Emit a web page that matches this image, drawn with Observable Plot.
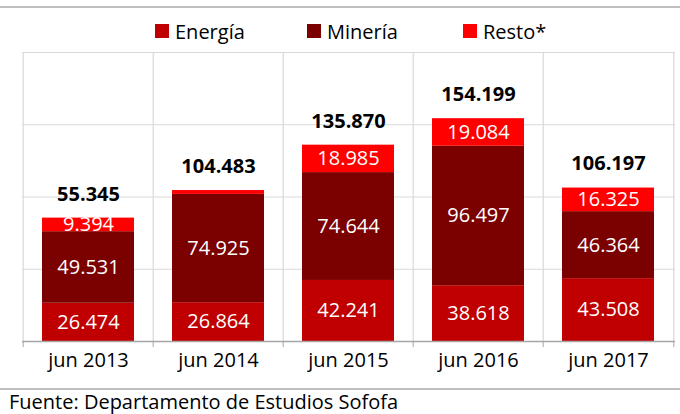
<!DOCTYPE html>
<html>
<head>
<meta charset="utf-8">
<script src="https://cdn.jsdelivr.net/npm/d3@7"></script>
<script src="https://cdn.jsdelivr.net/npm/@observablehq/plot@0.6"></script>
<style>
  body { margin: 0; background: #fff; font-family: "Open Sans", sans-serif; }
  #wrap { position: relative; width: 680px; height: 414px; overflow: hidden; }
  #topline { position: absolute; left: 0; top: 6px; width: 680px; height: 2px; background: #c0c0c0; }
  #legend { position: absolute; left: 0; top: 8px; width: 680px; height: 36px; }
  .item { position: absolute; top: 13px; height: 20px; display: flex; align-items: center; font-size: 20px; color: #000; }
  .sw { width: 14px; height: 14px; margin-right: 6px; }
  #chart { position: absolute; left: 0; top: 44px; }
  #botline { position: absolute; left: 0; top: 388px; width: 680px; height: 2px; background: #c0c0c0; }
  #caption { position: absolute; left: 9px; top: 390px; font-size: 20px; line-height: 24px; color: #000; white-space: nowrap; }
</style>
</head>
<body>
<div id="wrap">
  <div id="topline"></div>
  <div id="legend"></div>
  <div id="chart"></div>
  <div id="botline"></div>
  <div id="caption">Fuente: Departamento de Estudios Sofofa</div>
</div>
<script>
const categorias = ["jun 2013", "jun 2014", "jun 2015", "jun 2016", "jun 2017"];
const series = ["Energía", "Minería", "Resto*"];
const energia = [26474, 26864, 42241, 38618, 43508];
const mineria = [49531, 74925, 74644, 96497, 46364];
const resto = [9394, 2694, 18985, 19084, 16325];
const totales = [55345, 104483, 135870, 154199, 106197];
const colores = ["#C00000", "#7B0000", "#FF0000"];

const valores = [energia, mineria, resto];
const filas = [];
categorias.forEach((c, i) => {
  series.forEach((s, j) => filas.push({cat: c, serie: s, value: valores[j][i]}));
});
const cimas = categorias.map((c, i) => ({cat: c, top: energia[i] + mineria[i] + resto[i], total: totales[i]}));

const loc = d3.formatLocale({decimal: ",", thousands: ".", grouping: [3], currency: ["$", ""]});
const fmt = loc.format(",d");

// legend
const legendLeft = [155, 307, 463];
const leg = document.getElementById("legend");
series.forEach((s, j) => {
  const it = document.createElement("div");
  it.className = "item";
  it.style.left = legendLeft[j] + "px";
  it.innerHTML = `<span class="sw" style="background:${colores[j]}"></span><span>${s}</span>`;
  leg.appendChild(it);
});

const W = 680, mL = 22, mR = 5;
const step = (W - mL - mR) / categorias.length;

const chart = Plot.plot({
  width: W,
  height: 344,
  marginLeft: mL,
  marginRight: mR,
  marginTop: 8,
  marginBottom: 47,
  style: {fontFamily: "Open Sans, sans-serif", background: "white"},
  x: {domain: categorias, paddingInner: 0.29, paddingOuter: 0.145, label: null},
  y: {domain: [0, 200000], axis: null},
  color: {domain: series, range: colores},
  marks: [
    Plot.ruleY([50000, 100000, 150000, 200000], {stroke: "#d9d9d9", strokeWidth: 1.2}),
    Plot.ruleX(categorias, {x: d => d, y1: 0, y2: 200000, dx: -step / 2, stroke: "#d9d9d9", strokeWidth: 1.2}),
    Plot.ruleX([categorias[categorias.length - 1]], {x: d => d, y1: 0, y2: 200000, dx: step / 2, stroke: "#d9d9d9", strokeWidth: 1.2}),
    Plot.barY(filas, {x: "cat", y: "value", fill: "serie", order: series}),
    Plot.text(filas, Plot.stackY({
      x: "cat", y: "value", z: "serie", order: series,
      filter: d => d.value > 5000,
      text: d => fmt(d.value),
      fill: "white", fontSize: 20
    })),
    Plot.text(cimas, {x: "cat", y: "top", text: d => fmt(d.total), dy: -24, fontSize: 20, fontWeight: "bold", fill: "black"}),
    Plot.ruleY([0], {stroke: "#a6a6a6", strokeWidth: 1.5}),
    Plot.axisX({tickSize: 6, text: null, dx: -step / 2, stroke: "#a6a6a6"}),
    Plot.axisX([categorias[categorias.length - 1]], {tickSize: 6, text: null, dx: step / 2, stroke: "#a6a6a6"}),
    Plot.axisX({tickSize: 0, tickPadding: 11, fontSize: 20, fill: "black", label: null})
  ]
});
document.getElementById("chart").appendChild(chart);
</script>
</body>
</html>
